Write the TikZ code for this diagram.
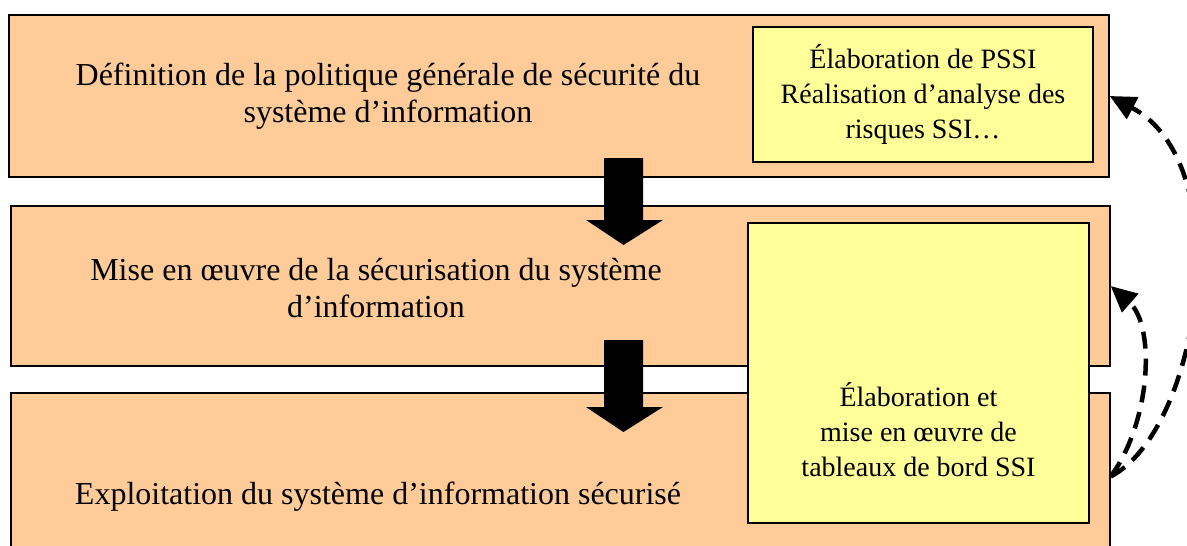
\documentclass[tikz,border=0pt]{standalone}
\usepackage{fontspec}
\setmainfont{Liberation Serif}
\usetikzlibrary{arrows.meta}

\definecolor{phasefill}{HTML}{FFCC99}
\definecolor{taskfill}{HTML}{FFFF99}

\begin{document}
\begin{tikzpicture}[x=1pt, y=-1pt,
    phase/.style={draw=black, line width=1.4pt, fill=phasefill, inner sep=0pt},
    task/.style={draw=black, line width=1.4pt, fill=taskfill, inner sep=0pt},
    phasetext/.style={align=center, font=\fontsize{32}{37}\selectfont},
    tasktext/.style={align=center, font=\fontsize{28}{35}\selectfont},
    feedback/.style={-{Triangle[length=26pt,width=24pt]}, line width=4.5pt, dash pattern=on 17pt off 10pt}
  ]
  \useasboundingbox (0,0) rectangle (1187,546);
  % the three phases
  \node[phase, minimum width=1100pt, minimum height=162pt] (def) at (559,96) {};
  \node[phase, minimum width=1099pt, minimum height=160pt] (mise) at (560.5,286) {};
  \node[phase, minimum width=1099pt, minimum height=167pt] (exploit) at (560.5,476.5) {};
  % block arrows between phases
  \foreach \top/\neck in {158/220, 340/407}
    \fill (604,\top) -- (643,\top) -- (643,\neck) -- (663,\neck)
      -- (623.5,{\neck+25}) -- (586,\neck) -- (604,\neck) -- cycle;
  % tasks
  \node[task, minimum width=340pt, minimum height=135pt] (pssi) at (923,94.5) {};
  \node[task, minimum width=341pt, minimum height=300pt] (tdb) at (918.5,373) {};
  % texts
  \node[phasetext] (deftext) at (388,96) {Définition de la politique générale de sécurité du\\système d’information};
  \node[phasetext] (misetext) at (376,288) {Mise en œuvre de la sécurisation du système\\d’information};
  \node[phasetext] (exploittext) at (378,497) {Exploitation du système d’information sécurisé};
  \node[tasktext] (pssitext) at (pssi) {Élaboration de PSSI\\Réalisation d’analyse des\\risques SSI…};
  \node[tasktext] (tdbtext) at (918.5,430) {Élaboration et\\mise en œuvre de\\tableaux de bord SSI};
  % feedback loops
  \draw[feedback] (exploit.east) .. controls (1200,430) and (1240,165) .. (def.east);
  \draw[feedback] (exploit.east) .. controls (1152,420) and (1155,325) .. (mise.east);
\end{tikzpicture}
\end{document}
